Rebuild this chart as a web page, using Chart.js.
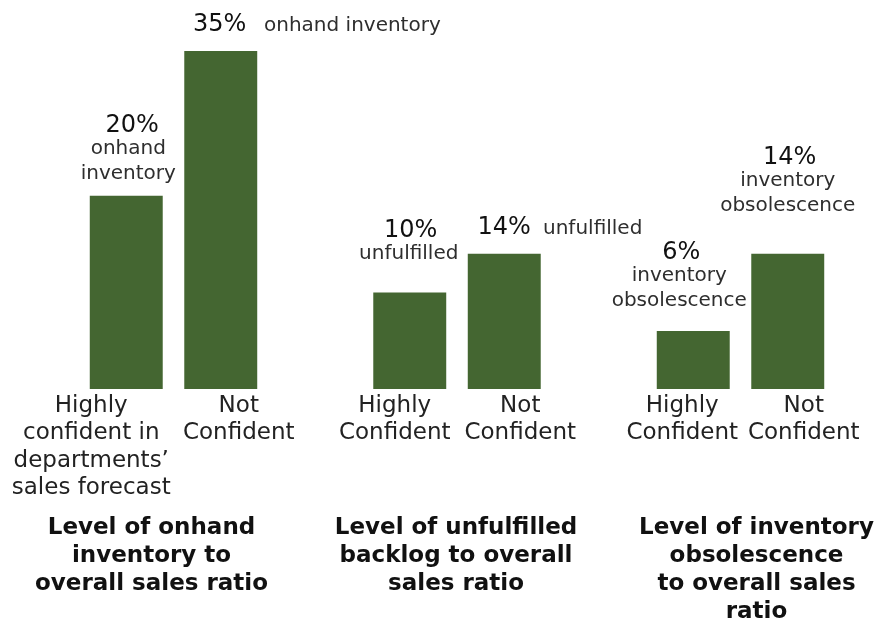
<!DOCTYPE html>
<html>
<head>
<meta charset="utf-8">
<script src="https://cdn.jsdelivr.net/npm/chart.js@4.4.0/dist/chart.umd.min.js"></script>
<style>
  html, body { margin: 0; padding: 0; background: #fff; }
  #wrap { width: 877px; height: 621px; }
</style>
</head>
<body>
<div id="wrap"><canvas id="chart" width="877" height="621"></canvas></div>
<script>
// categories (the empty slots separate the three groups)
const categories = [
  ['Highly', 'confident in', 'departments\u2019', 'sales forecast'],
  ['Not', 'Confident'],
  '',
  ['Highly', 'Confident'],
  ['Not', 'Confident'],
  '',
  ['Highly', 'Confident'],
  ['Not', 'Confident']
];

// percent values
const values = [20, 35, null, 10, 14, null, 6, 14];

// text under / beside each percentage
const valueNotes = [
  ['onhand', 'inventory'],
  ['onhand inventory'],
  null,
  ['unfulfilled'],
  ['unfulfilled'],
  null,
  ['inventory', 'obsolescence'],
  ['inventory', 'obsolescence']
];

// group titles below the chart
const groupTitles = [
  ['Level of onhand', 'inventory to', 'overall sales ratio'],
  ['Level of unfulfilled', 'backlog to overall', 'sales ratio'],
  ['Level of inventory', 'obsolescence', 'to overall sales', 'ratio']
];
const groupMembers = [[0, 1], [3, 4], [6, 7]];

const FONT = '"DejaVu Sans", Verdana, sans-serif';
const BAR_COLOR = '#446631';

// 标注的位置微调（相对柱子）
const noteLayout = [
  { dy: 70, dx: 6, ndx: 2 },
  { dy: 26, dx: -1, side: 264 },
  null,
  { dy: 62, dx: 1, ndx: -1 },
  { dy: 26, dx: 0, side: 543 },
  null,
  { dy: 78, dx: -12, ndx: -14 },
  { dy: 96, dx: 2, ndx: 0 }
];
const tickOffsets = [-35, 18, 0, -15, 16, 0, -11, 16];
const titleOffsets = [-22, -1, 16];

const labelPlugin = {
  id: 'labels',
  afterDraw(chart) {
    const ctx = chart.ctx;
    const meta = chart.getDatasetMeta(0);
    const xScale = chart.scales.x;
    const bottom = chart.chartArea.bottom;
    ctx.save();
    ctx.textBaseline = 'middle';

    // value labels
    values.forEach((v, i) => {
      if (v == null) return;
      const bar = meta.data[i];
      const lay = noteLayout[i];
      const y = bar.y - lay.dy;
      ctx.fillStyle = '#111111';
      ctx.font = '24px ' + FONT;
      ctx.textAlign = 'center';
      ctx.fillText(v + '%', bar.x + lay.dx, y);
      ctx.fillStyle = '#2e2e2e';
      ctx.font = '20px ' + FONT;
      if (lay.side) {
        ctx.textAlign = 'left';
        ctx.fillText(valueNotes[i][0], lay.side, y + 1);
      } else {
        valueNotes[i].forEach((t, k) => {
          ctx.fillText(t, bar.x + lay.ndx, y + 23 + k * 24.5);
        });
      }
    });

    // category labels
    ctx.fillStyle = '#222222';
    ctx.font = '23px ' + FONT;
    ctx.textAlign = 'center';
    categories.forEach((c, i) => {
      if (!c) return;
      const x = xScale.getPixelForValue(i) + tickOffsets[i];
      c.forEach((line, k) => {
        ctx.fillText(line, x, bottom + 17 + k * 27.4);
      });
    });

    // group titles
    ctx.fillStyle = '#111111';
    ctx.font = 'bold 23px ' + FONT;
    groupTitles.forEach((g, gi) => {
      const idx = groupMembers[gi];
      const x = (xScale.getPixelForValue(idx[0]) + xScale.getPixelForValue(idx[1])) / 2 + titleOffsets[gi];
      g.forEach((line, k) => {
        ctx.fillText(line, x, bottom + 139 + k * 28);
      });
    });
    ctx.restore();
  }
};

new Chart(document.getElementById('chart'), {
  type: 'bar',
  data: {
    labels: categories,
    datasets: [{
      data: values,
      backgroundColor: BAR_COLOR,
      borderWidth: 0,
      barPercentage: 0.772,
      categoryPercentage: 1
    }]
  },
  options: {
    responsive: false,
    animation: false,
    layout: { padding: { left: 79, right: 42, top: 51, bottom: 232 } },
    plugins: {
      legend: { display: false },
      tooltip: { enabled: false }
    },
    scales: {
      x: { display: false, grid: { display: false } },
      y: { display: false, min: 0, max: 35 }
    }
  },
  plugins: [labelPlugin]
});
</script>
</body>
</html>
